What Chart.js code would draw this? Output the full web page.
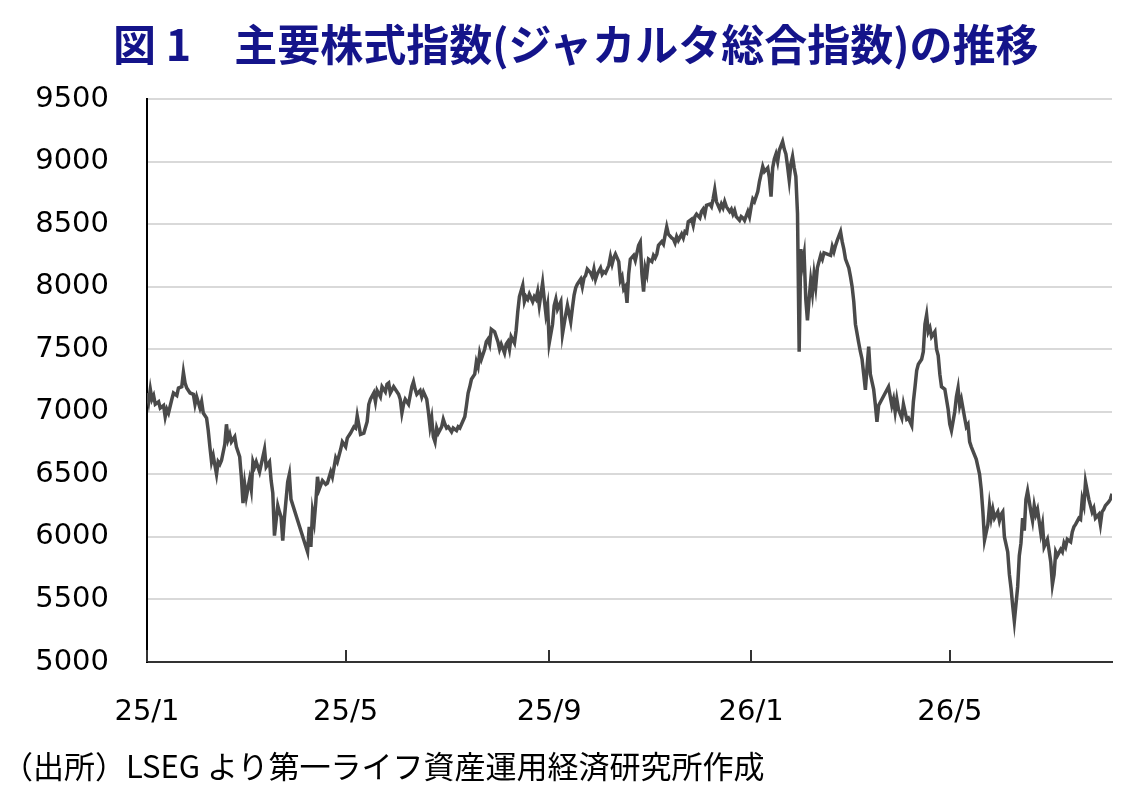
<!DOCTYPE html>
<html lang="ja">
<head>
<meta charset="utf-8">
<title>図1 主要株式指数(ジャカルタ総合指数)の推移</title>
<script src="https://cdn.jsdelivr.net/npm/chart.js@4.4.1/dist/chart.umd.min.js"></script>
<style>
  html, body { margin: 0; padding: 0; background: #fff; }
  body { width: 1137px; height: 800px; position: relative; overflow: hidden; }
  #chart { position: absolute; left: 0; top: 0; }
  .title {
    position: absolute; left: 113px; top: 21px; white-space: nowrap;
    font: bold 43px/43px "Noto Sans CJK JP", sans-serif; color: #14148a;
  }
  .note {
    position: absolute; left: 2px; top: 749px; white-space: nowrap;
    font: 31px/31px "Noto Sans CJK JP", sans-serif; color: #000;
  }
</style>
</head>
<body>
<canvas id="chart" width="1137" height="800"></canvas>
<div class="title">図 1　主要株式指数(ジャカルタ総合指数)の推移</div>
<div class="note">（出所）LSEG より第一ライフ資産運用経済研究所作成</div>
<script>
// days since 2025-01-01
const tradeDays = [
  0, 1, 2, 3, 4, 5, 7, 8, 10, 11, 12, 13, 15, 16, 18, 19, 21, 22, 23, 24,
  26, 28, 29, 30, 32, 33, 34, 36, 37, 38, 39, 40, 42, 43, 44, 45, 47, 48, 49, 50,
  51, 53, 54, 56, 57, 58, 59, 60, 62, 63, 64, 65, 66, 68, 69, 70, 71, 72, 74, 75,
  76, 77, 79, 80, 81, 82, 83, 85, 86, 87,
  97, 98, 99, 100, 101, 102, 103, 104, 106, 108, 109, 111, 112, 114, 115, 117, 118, 120, 121, 123,
  125, 126, 127, 129, 131, 133, 134, 135, 137, 138, 139, 141, 142, 144, 145, 146, 147, 149, 152, 153,
  154, 155, 156, 158, 160, 161, 162, 163, 165, 166, 167, 169, 170, 171, 172, 173, 174, 175, 176, 178,
  179, 180, 181, 182, 184, 185, 187, 188, 189, 190, 192, 193, 194, 195, 196, 198, 199, 200, 201, 202,
  204, 205, 206, 207, 208, 210, 211, 212,
  213, 214, 216, 217, 218, 219, 220, 222, 223, 224, 225, 227, 228, 229, 230, 231, 233, 234, 235, 236,
  237, 239, 240, 241, 242, 243, 245, 246, 247, 248, 250, 251, 252, 253, 254, 256, 257, 258, 259, 260,
  262, 263, 264, 265, 266, 268, 269, 270, 271, 272, 274, 275, 276, 277, 279, 280, 281, 282, 283, 285,
  286, 287, 288, 289, 290, 291, 292, 294, 295, 296, 297, 298, 299, 300, 301, 302, 303, 305, 306, 307,
  308, 309, 311, 312, 313, 314, 315, 317, 318, 319, 320, 321, 323, 324, 325, 326, 327, 329, 330, 331,
  332, 334, 335, 336, 337, 338, 340, 341, 342, 343, 344, 346, 347, 348, 349, 350, 352, 353, 354, 355,
  356, 358, 359, 360, 361, 363, 364, 365, 366, 367, 369, 370, 371, 372, 373, 375, 376, 377, 378, 379,
  380, 381, 382, 384, 385, 386, 387, 388, 389, 390, 391, 392,
  393, 394, 395, 396, 397, 398, 399, 400, 401, 402, 403, 404, 405, 407, 408, 409, 413, 414, 415, 416,
  417, 419, 420, 421, 422, 424, 425, 426, 427, 428, 430, 431, 432, 433, 434, 435, 436, 437, 439, 440,
  441, 442,
  448, 450, 451, 452, 453, 454, 456, 457, 458, 459, 460, 462, 463, 464, 465, 466, 468, 469, 470, 471,
  472, 473, 474, 476, 477, 478, 479, 480, 482, 483, 484, 485, 486, 488, 489, 490, 491, 492, 494, 495,
  496, 497, 498,
  501, 503, 504, 505, 506, 508, 509, 510, 511, 512, 514, 515, 516, 517, 518, 520, 521, 522, 523, 524,
  526, 527, 528, 529, 530, 531, 532, 534, 535, 536, 537, 538, 540, 541, 542, 543, 544, 546, 547, 548,
  549, 550, 552, 553, 554, 555, 556, 558, 559, 560, 561, 563, 564, 565, 566, 567, 569, 570, 571, 572,
  573, 575, 576, 577, 578, 579, 581, 582, 583,
];

const jciClose = [
  7150, 7080, 7180, 7100, 7130, 7060, 7080, 7030, 7050, 6960, 7020, 6990, 7100, 7150, 7130, 7190, 7200, 7315, 7230, 7190,
  7150, 7140, 7060, 7120, 7030, 7080, 6990, 6950, 6850, 6720, 6600, 6650, 6500, 6600, 6580, 6610, 6740, 6900, 6780, 6820,
  6760, 6800, 6720, 6640, 6480, 6270, 6420, 6320, 6460, 6380, 6600, 6560, 6600, 6520, 6580, 6640, 6700, 6560, 6600, 6450,
  6350, 6010, 6250, 6200, 6160, 5970, 6150, 6440, 6500, 6300,
  5880, 6080, 5920, 6200, 6120, 6280, 6480, 6380, 6450, 6420, 6430, 6520, 6480, 6630, 6600, 6700, 6760, 6720, 6790, 6830,
  6880, 6870, 6968, 6820, 6830, 6920, 7060, 7100, 7150, 7080, 7170, 7120, 7200, 7160, 7220, 7230, 7150, 7200, 7140, 7100,
  6990, 7060, 7100, 7060, 7200, 7240, 7180, 7140, 7170, 7120, 7160, 7100, 7000, 6880, 6950, 6800, 6760, 6870, 6830, 6880,
  6940, 6900, 6870, 6880, 6840, 6870, 6850, 6880, 6870, 6900, 6960, 7050, 7150, 7200, 7260, 7300, 7400, 7360, 7470, 7420,
  7500, 7560, 7580, 7540, 7660, 7640, 7600, 7560,
  7500, 7540, 7470, 7540, 7560, 7500, 7600, 7550, 7650, 7800, 7920, 8010, 7880, 7920, 7900, 7940, 7880, 7920, 7900, 7960,
  7850, 8030, 7900, 7780, 7850, 7550, 7700, 7850, 7900, 7820, 7880, 7620, 7700, 7780, 7850, 7720, 7830, 7930, 7990, 8020,
  8060, 8000, 8070, 8090, 8140, 8110, 8080, 8140, 8060, 8100, 8150, 8100, 8120, 8110, 8170, 8240, 8180, 8230, 8260, 8200,
  8050, 8080, 7980, 8000, 7870, 8100, 8220, 8250, 8210, 8270, 8330, 8356, 8100, 7960, 8150, 8100, 8220, 8200, 8250, 8230,
  8260, 8330, 8360, 8340, 8410, 8478, 8420, 8390, 8380, 8350, 8400, 8370, 8420, 8390, 8440, 8430, 8520, 8540, 8490, 8560,
  8580, 8550, 8600, 8620, 8580, 8650, 8660, 8640, 8700, 8775, 8680, 8620, 8660, 8630, 8680, 8640, 8600, 8620, 8580, 8610,
  8560, 8530, 8560, 8550, 8530, 8600, 8560, 8640, 8700, 8680, 8760, 8840, 8900, 8960, 8920, 8950, 8870, 8720, 8950, 9020,
  9060, 9000, 9090, 9160, 9100, 9060, 8960, 8850, 8980, 9040, 8950, 8880,
  8585, 7480, 8300, 8180, 8260, 7900, 7730, 7900, 8050, 7950, 8100, 8000, 8150, 8250, 8220, 8270, 8250, 8320, 8280, 8330,
  8370, 8440, 8360, 8300, 8220, 8150, 8080, 8000, 7880, 7700, 7550, 7480, 7420, 7300, 7175, 7350, 7520, 7300, 7180, 7060,
  6920, 7050,
  7200, 7050, 7100, 7000, 7100, 7020, 6950, 7060, 7000, 6940, 6950, 6890, 7080, 7200, 7330, 7380, 7420, 7480, 7700, 7775,
  7640, 7670, 7600, 7640, 7500, 7450, 7300, 7200, 7180, 7100, 7020, 6900, 6850, 7000, 7120, 7190, 7050, 7100, 6950, 6880,
  6900, 6760, 6720,
  6620, 6500, 6380, 6200, 5975, 6100, 6250, 6150, 6220, 6150, 6200, 6130, 6180, 6200, 6000, 5880, 5700, 5590, 5450, 5325,
  5600, 5850, 5950, 6150, 6050, 6300, 6367, 6200, 6130, 6250, 6180, 6220, 6030, 6100, 5920, 5950, 5980, 5800, 5620, 5700,
  5880, 5850, 5900, 5880, 5950, 5920, 5980, 5960, 6040, 6080, 6100, 6150, 6140, 6300, 6250, 6440, 6300, 6250, 6200, 6230,
  6150, 6180, 6100, 6200, 6220, 6250, 6280, 6300, 6345,
];

// month ticks: 25/1, 25/5, 25/9, 26/1, 26/5
const monthTickDays = [0, 120, 243, 365, 485];
const monthTickLabels = ['25/1', '25/5', '25/9', '26/1', '26/5'];
const lastDay = 583;

const yMin = 5000, yMax = 9500, yStep = 500;

// small tick marks pointing up into the plot on the x axis
const innerTicks = {
  id: 'innerTicks',
  afterDraw(chart) {
    const { ctx, chartArea } = chart;
    const x = chart.scales.x;
    ctx.save();
    ctx.strokeStyle = '#333';
    ctx.lineWidth = 2;
    x.ticks.forEach((t) => {
      const px = Math.round(x.getPixelForValue(t.value));
      ctx.beginPath();
      ctx.moveTo(px, chartArea.bottom);
      ctx.lineTo(px, chartArea.bottom - 12);
      ctx.stroke();
    });
    ctx.restore();
  },
};

const axisFont = { family: '"DejaVu Sans", Verdana, sans-serif', size: 29 };

new Chart(document.getElementById('chart'), {
  type: 'line',
  data: {
    datasets: [
      {
        label: 'ジャカルタ総合指数',
        data: tradeDays.map((d, i) => ({ x: d, y: jciClose[i] })),
        borderColor: '#4a4a4a',
        borderWidth: 3.5,
        pointRadius: 0,
        tension: 0,
        fill: false,
      },
    ],
  },
  options: {
    responsive: false,
    animation: false,
    devicePixelRatio: 1,
    layout: { padding: { top: 99, right: 25, bottom: 0, left: 0 } },
    plugins: {
      legend: { display: false },
      tooltip: { enabled: false },
    },
    scales: {
      x: {
        type: 'linear',
        min: 0,
        max: lastDay,
        afterBuildTicks: (s) => {
          s.ticks = monthTickDays.map((v) => ({ value: v }));
        },
        afterFit: (s) => {
          s.height = 138;
        },
        grid: { display: false },
        border: { display: true, color: '#333', width: 2 },
        ticks: {
          autoSkip: false,
          maxRotation: 0,
          padding: 25,
          color: '#000',
          font: axisFont,
          callback: (v, i) => monthTickLabels[i],
        },
      },
      y: {
        min: yMin,
        max: yMax,
        afterFit: (s) => {
          s.width = 147;
        },
        grid: { color: '#d9d9d9', lineWidth: 2, drawTicks: false },
        border: { display: true, color: '#000', width: 2 },
        ticks: {
          stepSize: yStep,
          padding: 38,
          color: '#000',
          font: axisFont,
          callback: (v) => String(v),
        },
      },
    },
  },
  plugins: [innerTicks],
});
</script>
</body>
</html>
